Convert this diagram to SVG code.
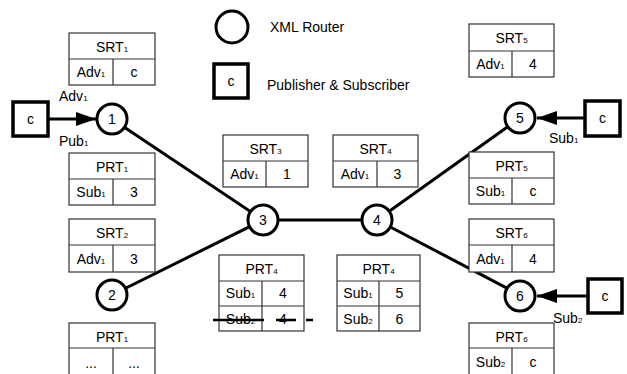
<svg xmlns="http://www.w3.org/2000/svg" width="627" height="374" viewBox="0 0 627 374">
<style>
.t{font-family:"Liberation Sans",Arial,sans-serif;font-size:14px;fill:#000;text-anchor:middle}
.l{font-family:"Liberation Sans",Arial,sans-serif;font-size:14px;fill:#000}
.lg{font-family:"Liberation Sans",Arial,sans-serif;font-size:14px;fill:#000}
.s{font-size:8px}
.tb{fill:#fff;stroke:#333;stroke-width:1.2}
.tl{stroke:#333;stroke-width:1.2}
.rt{fill:#fff;stroke:#000;stroke-width:3}
.pb{fill:#fff;stroke:#000;stroke-width:3.5}
.ln{stroke:#000;stroke-width:3;fill:none}
</style>
<defs>
<marker id="ah" markerUnits="userSpaceOnUse" markerWidth="20" markerHeight="14" refX="20" refY="7" orient="auto">
<path d="M0,0 L20,7 L0,14 z" fill="#000"/>
</marker>
</defs>

<g id="legend">
<circle class="rt" cx="232" cy="27" r="16"/>
<text class="lg" x="270" y="32">XML Router</text>
<rect class="pb" x="214" y="64" width="34" height="34"/>
<text class="t" x="231" y="86">c</text>
<text class="lg" x="267" y="90">Publisher &amp; Subscriber</text>
</g>

<g id="connectors">
<line class="ln" x1="112" y1="119" x2="263" y2="220"/>
<line class="ln" x1="112" y1="295" x2="263" y2="220"/>
<line class="ln" x1="263" y1="220" x2="377" y2="220"/>
<line class="ln" x1="377" y1="220" x2="520" y2="118"/>
<line class="ln" x1="377" y1="220" x2="520" y2="295"/>
<line class="ln" x1="49" y1="119" x2="96" y2="119" marker-end="url(#ah)"/>
<line class="ln" x1="584" y1="118" x2="537" y2="118" marker-end="url(#ah)"/>
<line class="ln" x1="588" y1="296" x2="537" y2="296" marker-end="url(#ah)"/>
<text class="l" x="59" y="101">Adv<tspan class="s">1</tspan></text>
<text class="l" x="59" y="146">Pub<tspan class="s">1</tspan></text>
<text class="l" x="549" y="143">Sub<tspan class="s">1</tspan></text>
<text class="l" x="553" y="323">Sub<tspan class="s">2</tspan></text>
</g>

<g id="pub1"><rect class="pb" x="13" y="102" width="35" height="34"/><text class="t" x="30.5" y="124">c</text></g>
<g id="sub5"><rect class="pb" x="585" y="101" width="35" height="35"/><text class="t" x="602.5" y="123">c</text></g>
<g id="sub6"><rect class="pb" x="588" y="279" width="34" height="34"/><text class="t" x="605" y="301">c</text></g>

<g id="node1"><circle class="rt" cx="112" cy="119" r="15"/><text class="t" x="112" y="124">1</text></g>
<g id="node2"><circle class="rt" cx="112" cy="295" r="15"/><text class="t" x="112" y="300">2</text></g>
<g id="node3"><circle class="rt" cx="263" cy="220" r="15"/><text class="t" x="263" y="225">3</text></g>
<g id="node4"><circle class="rt" cx="377" cy="220" r="15"/><text class="t" x="377" y="225">4</text></g>
<g id="node5"><circle class="rt" cx="520" cy="118" r="15"/><text class="t" x="520" y="123">5</text></g>
<g id="node6"><circle class="rt" cx="520" cy="296" r="15"/><text class="t" x="520" y="301">6</text></g>

<g id="srt1">
<rect class="tb" x="69" y="33" width="86" height="52"/>
<line class="tl" x1="69" y1="59" x2="155" y2="59"/><line class="tl" x1="113" y1="59" x2="113" y2="85"/>
<text class="t" x="112" y="52">SRT<tspan class="s">1</tspan></text>
<text class="t" x="91" y="77">Adv<tspan class="s">1</tspan></text><text class="t" x="134" y="77">c</text>
</g>
<g id="prt1">
<rect class="tb" x="69" y="153" width="86" height="52"/>
<line class="tl" x1="69" y1="179" x2="155" y2="179"/><line class="tl" x1="113" y1="179" x2="113" y2="205"/>
<text class="t" x="112" y="172">PRT<tspan class="s">1</tspan></text>
<text class="t" x="91" y="197">Sub<tspan class="s">1</tspan></text><text class="t" x="134" y="197">3</text>
</g>
<g id="srt2">
<rect class="tb" x="69" y="219" width="86" height="53"/>
<line class="tl" x1="69" y1="245" x2="155" y2="245"/><line class="tl" x1="113" y1="245" x2="113" y2="272"/>
<text class="t" x="112" y="238">SRT<tspan class="s">2</tspan></text>
<text class="t" x="91" y="264">Adv<tspan class="s">1</tspan></text><text class="t" x="134" y="264">3</text>
</g>
<g id="prt1b">
<rect class="tb" x="69" y="323" width="86" height="53"/>
<line class="tl" x1="69" y1="348" x2="155" y2="348"/><line class="tl" x1="113" y1="348" x2="113" y2="376"/>
<text class="t" x="112" y="342">PRT<tspan class="s">1</tspan></text>
<text class="t" x="91" y="368">...</text><text class="t" x="134" y="368">...</text>
</g>
<g id="srt3">
<rect class="tb" x="223" y="135" width="85" height="52"/>
<line class="tl" x1="223" y1="161" x2="308" y2="161"/><line class="tl" x1="266" y1="161" x2="266" y2="187"/>
<text class="t" x="265.5" y="154">SRT<tspan class="s">3</tspan></text>
<text class="t" x="244.5" y="179">Adv<tspan class="s">1</tspan></text><text class="t" x="287" y="179">1</text>
</g>
<g id="srt4">
<rect class="tb" x="333" y="135" width="85" height="52"/>
<line class="tl" x1="333" y1="161" x2="418" y2="161"/><line class="tl" x1="377" y1="161" x2="377" y2="187"/>
<text class="t" x="375.5" y="154">SRT<tspan class="s">4</tspan></text>
<text class="t" x="355" y="179">Adv<tspan class="s">1</tspan></text><text class="t" x="397.5" y="179">3</text>
</g>
<g id="prt4a">
<rect class="tb" x="219" y="255" width="85" height="76"/>
<line class="tl" x1="219" y1="281" x2="304" y2="281"/><line class="tl" x1="219" y1="306" x2="304" y2="306"/><line class="tl" x1="262" y1="281" x2="262" y2="331"/>
<text class="t" x="261.5" y="274">PRT<tspan class="s">4</tspan></text>
<text class="t" x="240.5" y="298">Sub<tspan class="s">1</tspan></text><text class="t" x="283" y="298">4</text>
<text class="t" x="240.5" y="324">Sub<tspan class="s">2</tspan></text><text class="t" x="283" y="324">4</text>
<line stroke="#000" stroke-width="2.5" x1="213" y1="320" x2="313" y2="320" stroke-dasharray="51 12 20 10 7 100"/>
</g>
<g id="prt4b">
<rect class="tb" x="337" y="255" width="83" height="76"/>
<line class="tl" x1="337" y1="281" x2="420" y2="281"/><line class="tl" x1="337" y1="306" x2="420" y2="306"/><line class="tl" x1="379" y1="281" x2="379" y2="331"/>
<text class="t" x="378.5" y="274">PRT<tspan class="s">4</tspan></text>
<text class="t" x="358" y="298">Sub<tspan class="s">1</tspan></text><text class="t" x="399.5" y="298">5</text>
<text class="t" x="358" y="324">Sub<tspan class="s">2</tspan></text><text class="t" x="399.5" y="324">6</text>
</g>
<g id="srt5">
<rect class="tb" x="469" y="24" width="85" height="53"/>
<line class="tl" x1="469" y1="51" x2="554" y2="51"/><line class="tl" x1="512" y1="51" x2="512" y2="77"/>
<text class="t" x="511.5" y="43">SRT<tspan class="s">5</tspan></text>
<text class="t" x="490.5" y="69">Adv<tspan class="s">1</tspan></text><text class="t" x="533" y="69">4</text>
</g>
<g id="prt5">
<rect class="tb" x="469" y="152" width="85" height="52"/>
<line class="tl" x1="469" y1="178" x2="554" y2="178"/><line class="tl" x1="512" y1="178" x2="512" y2="204"/>
<text class="t" x="511.5" y="171">PRT<tspan class="s">5</tspan></text>
<text class="t" x="490.5" y="196">Sub<tspan class="s">1</tspan></text><text class="t" x="533" y="196">c</text>
</g>
<g id="srt6">
<rect class="tb" x="469" y="219" width="85" height="53"/>
<line class="tl" x1="469" y1="245" x2="554" y2="245"/><line class="tl" x1="512" y1="245" x2="512" y2="272"/>
<text class="t" x="511.5" y="238">SRT<tspan class="s">6</tspan></text>
<text class="t" x="490.5" y="264">Adv<tspan class="s">1</tspan></text><text class="t" x="533" y="264">4</text>
</g>
<g id="prt6">
<rect class="tb" x="469" y="323" width="85" height="53"/>
<line class="tl" x1="469" y1="348" x2="554" y2="348"/><line class="tl" x1="512" y1="348" x2="512" y2="376"/>
<text class="t" x="511.5" y="342">PRT<tspan class="s">6</tspan></text>
<text class="t" x="490.5" y="367">Sub<tspan class="s">2</tspan></text><text class="t" x="533" y="367">c</text>
</g>
</svg>
